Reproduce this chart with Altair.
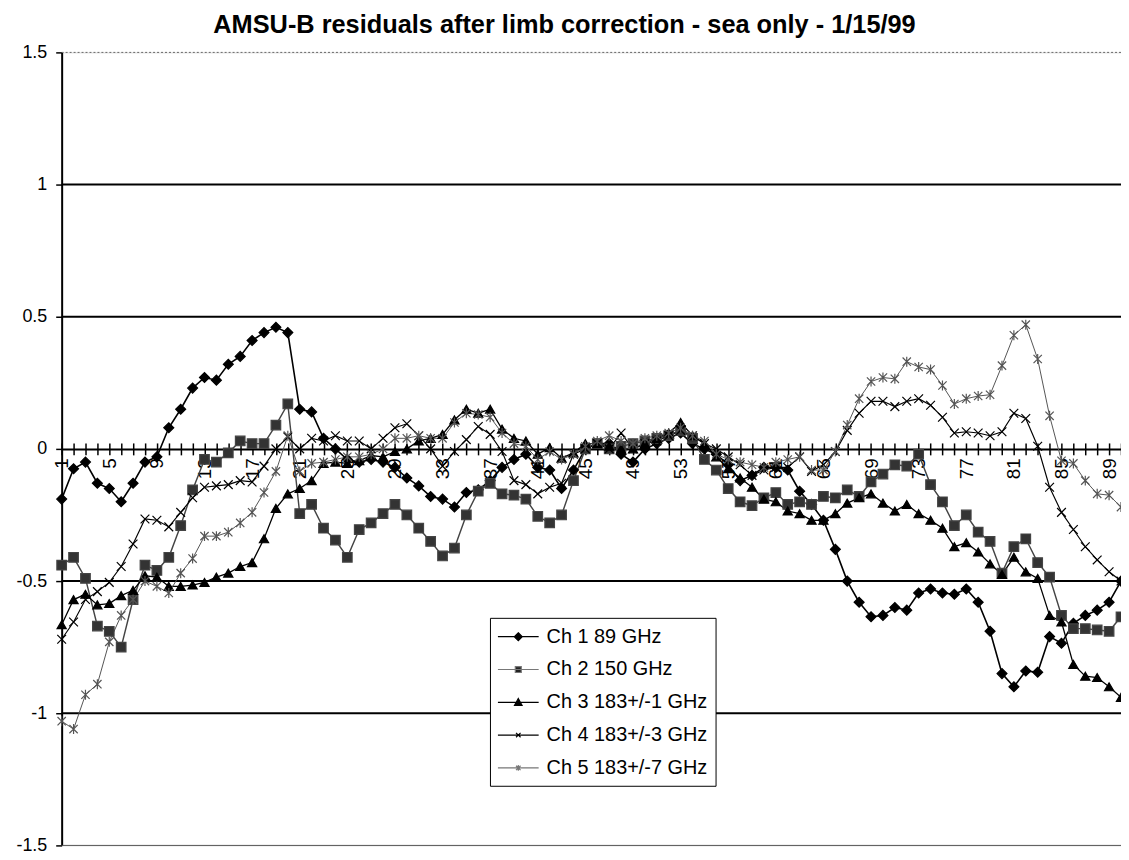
import altair as alt
import pandas as pd

positions = list(range(1, 91))

series_names = ["Ch 1 89 GHz", "Ch 2 150 GHz", "Ch 3 183+/-1 GHz",
                "Ch 4 183+/-3 GHz", "Ch 5 183+/-7 GHz"]

ch1 = [-0.19, -0.075, -0.05, -0.13, -0.15, -0.20, -0.13, -0.05, -0.03, 0.08,
       0.15, 0.23, 0.27, 0.26, 0.32, 0.35, 0.41, 0.44, 0.46, 0.44,
       0.15, 0.14, 0.04, 0.00, -0.04, -0.05, -0.04, -0.05, -0.07, -0.11,
       -0.14, -0.18, -0.19, -0.22, -0.165, -0.155, -0.12, -0.07, -0.04, -0.02,
       -0.07, -0.08, -0.15, -0.08, 0.0, 0.02, 0.02, -0.02, -0.05, 0.0,
       0.02, 0.04, 0.06, 0.02, 0.0, -0.02, -0.06, -0.12, -0.10, -0.07,
       -0.07, -0.08, -0.16, -0.21, -0.27, -0.38, -0.50, -0.58, -0.635, -0.63,
       -0.60, -0.61, -0.545, -0.53, -0.545, -0.55, -0.53, -0.58, -0.69, -0.85,
       -0.90, -0.84, -0.845, -0.71, -0.735, -0.66, -0.63, -0.61, -0.58, -0.50]

ch2 = [-0.44, -0.41, -0.49, -0.67, -0.69, -0.75, -0.57, -0.44, -0.46, -0.41,
       -0.29, -0.155, -0.04, -0.05, -0.015, 0.03, 0.02, 0.02, 0.09, 0.17,
       -0.245, -0.21, -0.30, -0.345, -0.41, -0.305, -0.28, -0.245, -0.21, -0.25,
       -0.30, -0.35, -0.405, -0.375, -0.25, -0.16, -0.13, -0.17, -0.175, -0.19,
       -0.255, -0.28, -0.25, -0.12, 0.0, 0.02, 0.0, 0.01, 0.02, 0.03,
       0.04, 0.05, 0.07, 0.04, -0.04, -0.08, -0.15, -0.20, -0.215, -0.185,
       -0.165, -0.21, -0.20, -0.21, -0.18, -0.185, -0.155, -0.18, -0.125, -0.095,
       -0.06, -0.065, -0.02, -0.135, -0.20, -0.29, -0.25, -0.315, -0.35, -0.47,
       -0.37, -0.34, -0.43, -0.485, -0.63, -0.68, -0.68, -0.685, -0.69, -0.635]

ch3 = [-0.665, -0.57, -0.55, -0.59, -0.585, -0.555, -0.535, -0.48, -0.485, -0.52,
       -0.52, -0.515, -0.505, -0.485, -0.47, -0.445, -0.43, -0.34, -0.225, -0.17,
       -0.15, -0.12, -0.055, -0.05, -0.055, -0.045, -0.025, -0.03, -0.01, 0.0,
       0.03, 0.04, 0.055, 0.11, 0.15, 0.135, 0.15, 0.075, 0.04, 0.03,
       -0.02, 0.005, -0.035, -0.015, 0.02, 0.02, 0.01, 0.0, 0.0, 0.02,
       0.04, 0.06, 0.10, 0.05, 0.02, -0.03, -0.075, -0.11, -0.145, -0.19,
       -0.20, -0.235, -0.245, -0.27, -0.27, -0.245, -0.205, -0.185, -0.17, -0.205,
       -0.235, -0.21, -0.245, -0.27, -0.30, -0.37, -0.355, -0.39, -0.435, -0.475,
       -0.41, -0.465, -0.49, -0.63, -0.655, -0.815, -0.86, -0.865, -0.90, -0.94]

ch4 = [-0.72, -0.655, -0.57, -0.54, -0.505, -0.445, -0.36, -0.265, -0.27, -0.295,
       -0.24, -0.185, -0.145, -0.14, -0.135, -0.12, -0.125, -0.065, 0.0, 0.045,
       0.0, 0.04, 0.03, 0.05, 0.03, 0.03, 0.0, 0.04, 0.08, 0.095,
       0.05, 0.0, -0.065, -0.01, 0.035, 0.085, 0.055, -0.01, -0.12, -0.135,
       -0.17, -0.145, -0.13, -0.02, 0.0, 0.02, 0.0, 0.06, 0.0, 0.02,
       0.03, 0.05, 0.07, 0.05, 0.02, 0.0, -0.03, -0.06, -0.10, -0.08,
       -0.07, -0.07, -0.03, -0.085, -0.06, -0.01, 0.07, 0.135, 0.18, 0.18,
       0.16, 0.18, 0.19, 0.165, 0.12, 0.06, 0.065, 0.06, 0.05, 0.065,
       0.135, 0.115, 0.01, -0.145, -0.24, -0.305, -0.37, -0.42, -0.465, -0.50]

ch5 = [-1.03, -1.06, -0.93, -0.89, -0.73, -0.63, -0.57, -0.50, -0.52, -0.545,
       -0.47, -0.415, -0.33, -0.33, -0.315, -0.28, -0.24, -0.165, -0.085, 0.05,
       -0.085, -0.055, -0.05, -0.04, -0.03, -0.03, -0.02, 0.0, 0.04, 0.04,
       0.05, 0.04, 0.04, 0.10, 0.135, 0.13, 0.12, 0.06, 0.02, 0.01,
       -0.04, -0.01, -0.04, -0.02, 0.01, 0.03, 0.05, 0.03, 0.02, 0.04,
       0.05, 0.06, 0.08, 0.05, 0.03, -0.02, -0.04, -0.05, -0.06, -0.07,
       -0.05, -0.04, -0.03, -0.08, -0.08, -0.01, 0.09, 0.19, 0.255, 0.27,
       0.265, 0.33, 0.31, 0.30, 0.24, 0.17, 0.19, 0.20, 0.205, 0.315,
       0.43, 0.47, 0.34, 0.125, -0.045, -0.055, -0.12, -0.17, -0.175, -0.22]

y_ticks = [-1.5, -1.0, -0.5, 0.0, 0.5, 1.0, 1.5]
grid_solid = [1.0, 0.5, -0.5, -1.0]
grid_top = [1.5]
grid_bottom = [-1.5]

title_text = "AMSU-B residuals after limb correction - sea only - 1/15/99"

rows = []
for name, vals in zip(series_names, [ch1, ch2, ch3, ch4, ch5]):
    for p, v in zip(positions, vals):
        rows.append({"pos": p, "value": v, "series": name})
df = pd.DataFrame(rows)

FONT = "Liberation Sans"
X_PATH = "M-1,-1L1,1M-1,1L1,-1"
AST_PATH = "M-1,-1L1,1M-1,1L1,-1M0,-1.2L0,1.2"

# legend symbols: line sample with marker in the middle
LEG_LINE = "M-1.1,0H3"
leg_shapes = [
    LEG_LINE + "M0.95,-0.4L1.35,0L0.95,0.4L0.55,0Z",
    LEG_LINE + "M0.65,-0.3H1.25V0.3H0.65Z",
    LEG_LINE + "M0.95,-0.38L1.33,0.3H0.57Z",
    LEG_LINE + "M0.72,-0.22L1.18,0.22M0.72,0.22L1.18,-0.22",
    LEG_LINE + "M0.72,-0.22L1.18,0.22M0.72,0.22L1.18,-0.22M0.95,-0.28V0.28",
]

x_scale = alt.Scale(domain=[1, 90], nice=False, zero=False)
y_scale = alt.Scale(domain=[-1.5, 1.5], nice=False, zero=False)
line_colors = ["black", "#444444", "black", "black", "#555555"]

grid_df = pd.DataFrame({"y": grid_solid})
top_df = pd.DataFrame({"y": grid_top})
bot_df = pd.DataFrame({"y": grid_bottom})

rules = alt.Chart(grid_df).mark_rule(color="black", strokeWidth=2).encode(
    y=alt.Y("y:Q", scale=y_scale, axis=None))
top_rule = alt.Chart(top_df).mark_rule(color="#666666", strokeWidth=1,
                                        strokeDash=[2, 2]).encode(
    y=alt.Y("y:Q", scale=y_scale, axis=None))
bot_rule = alt.Chart(bot_df).mark_rule(color="#555555", strokeWidth=1).encode(
    y=alt.Y("y:Q", scale=y_scale, axis=None))

lines = alt.Chart(df).mark_line().encode(
    x=alt.X("pos:Q", scale=x_scale,
            axis=alt.Axis(orient="bottom", offset=-399, values=positions,
                          labelExpr="(datum.value - 1) % 4 == 0 ? toString(datum.value) : ''",
                          labelAngle=270, labelFontSize=19, labelFont=FONT,
                          labelColor="black", tickSize=6, tickColor="black",
                          tickWidth=1.5, domainColor="black", domainWidth=2,
                          labelPadding=3, grid=False, title=None,
                          labelFlush=False, labelOverlap=False)),
    y=alt.Y("value:Q", scale=y_scale,
            axis=alt.Axis(values=y_ticks, labelExpr="toString(datum.value)",
                          labelFontSize=18, labelFont=FONT, labelColor="black",
                          tickSize=6, tickColor="black", tickWidth=1.5,
                          labelPadding=9, domainColor="black", domainWidth=2,
                          grid=False, title=None, labelFlush=False)),
    stroke=alt.Stroke("series:N",
                      scale=alt.Scale(domain=series_names, range=line_colors),
                      legend=None),
    strokeWidth=alt.StrokeWidth("series:N",
                                scale=alt.Scale(domain=series_names,
                                                range=[1.6, 1.0, 1.6, 1.0, 1.0]),
                                legend=None),
    detail="series:N",
)

points = alt.Chart(df).mark_point(filled=False, strokeWidth=1.2, opacity=1).encode(
    x=alt.X("pos:Q", scale=x_scale, axis=None),
    y=alt.Y("value:Q", scale=y_scale, axis=None),
    shape=alt.Shape("series:N",
                    scale=alt.Scale(domain=series_names,
                                    range=["diamond", "square", "triangle-up",
                                           X_PATH, AST_PATH]),
                    legend=None),
    fill=alt.Fill("series:N",
                  scale=alt.Scale(domain=series_names,
                                  range=["black", "#333333", "black",
                                         "transparent", "transparent"]),
                  legend=None),
    stroke=alt.Stroke("series:N",
                      scale=alt.Scale(domain=series_names, range=line_colors),
                      legend=None),
    size=alt.Size("series:N",
                  scale=alt.Scale(domain=series_names,
                                  range=[100, 70, 100, 40, 45]),
                  legend=None),
)

leg = alt.Legend(title=None, orient="none", legendX=431, legendY=569,
                 fillColor="white", strokeColor="black", padding=8,
                 symbolSize=400, symbolStrokeWidth=1.2, symbolOpacity=1,
                 labelFontSize=20, labelFont=FONT, labelColor="black",
                 labelOffset=27, rowPadding=12, labelLimit=400)

proxy = alt.Chart(df).mark_point(filled=True, opacity=0, strokeWidth=1.2).encode(
    x=alt.X("pos:Q", scale=x_scale,
            axis=alt.Axis(orient="top", offset=-399, values=positions,
                          labels=False, domain=False, tickSize=6,
                          tickColor="black", tickWidth=1.5, grid=False,
                          title=None)),
    y=alt.Y("value:Q", scale=y_scale, axis=None),
    shape=alt.Shape("series:N",
                    scale=alt.Scale(domain=series_names, range=leg_shapes),
                    legend=leg),
    fill=alt.Fill("series:N",
                  scale=alt.Scale(domain=series_names,
                                  range=["black", "#222222", "black",
                                         "black", "black"]),
                  legend=leg),
    stroke=alt.Stroke("series:N",
                      scale=alt.Scale(domain=series_names,
                                      range=["black", "#777777", "black",
                                             "black", "#777777"]),
                      legend=leg),
)

chart = alt.layer(rules, top_rule, bot_rule, lines, points, proxy).resolve_scale(
    shape="independent", fill="independent", stroke="independent"
).resolve_axis(
    x="independent", y="independent"
).properties(
    width=1066, height=798,
    autosize=alt.AutoSizeParams(type="none"),
    padding={"left": 54, "top": 42, "right": 0, "bottom": 10},
    title=alt.TitleParams(title_text, fontSize=25.5, fontWeight="bold", font=FONT,
                          color="black", anchor="middle", dx=-27, offset=5),
).configure_view(stroke=None).configure(background="white")

chart.save("out.html", embed_options={"renderer": "svg", "actions": False})
